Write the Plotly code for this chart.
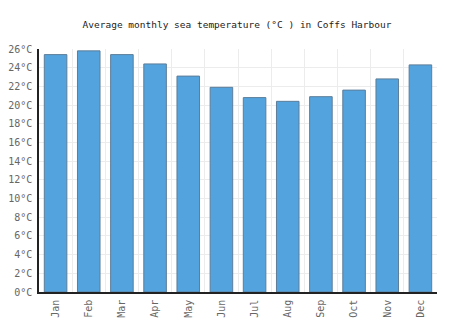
import plotly.graph_objects as go

months = ["Jan", "Feb", "Mar", "Apr", "May", "Jun",
          "Jul", "Aug", "Sep", "Oct", "Nov", "Dec"]
sea_temp_c = [25.4, 25.8, 25.4, 24.4, 23.1, 21.9,
              20.8, 20.4, 20.9, 21.6, 22.8, 24.3]
y_ticks = list(range(0, 27, 2))
y_tick_labels = [f"{v}°C" for v in y_ticks]

fig = go.Figure(
    go.Bar(
        x=months,
        y=sea_temp_c,
        marker=dict(color="#52a3de", line=dict(color="#5d7d98", width=1)),
        hoverinfo="x+y",
    )
)

mono = "DejaVu Sans Mono"
fig.update_layout(
    width=474,
    height=331,
    margin=dict(l=39, r=37, t=49, b=39),
    paper_bgcolor="white",
    plot_bgcolor="white",
    bargap=0.32,
    showlegend=False,
    title=dict(
        text="Average monthly sea temperature (°C ) in Coffs Harbour",
        x=0.5,
        xanchor="center",
        y=1 - 25 / 331,
        yanchor="middle",
        font=dict(family=mono, size=9.5, color="#222"),
    ),
)
fig.update_xaxes(
    type="category",
    tickson="boundaries",
    automargin=False,
    showgrid=True,
    gridcolor="#ececec",
    gridwidth=1,
    showline=True,
    linecolor="#222",
    linewidth=1.5,
    ticks="",
    tickangle=-90,
    ticklabelstandoff=2,
    tickfont=dict(family=mono, size=10, color="#666"),
    mirror=False,
)
fig.update_yaxes(
    range=[0, 26],
    tickvals=y_ticks,
    ticktext=y_tick_labels,
    automargin=False,
    showgrid=True,
    gridcolor="#ececec",
    gridwidth=1,
    showline=True,
    linecolor="#222",
    linewidth=1.5,
    ticks="",
    ticklabelstandoff=3,
    zeroline=False,
    tickfont=dict(family=mono, size=10, color="#666"),
)

fig.write_html("out.html")
